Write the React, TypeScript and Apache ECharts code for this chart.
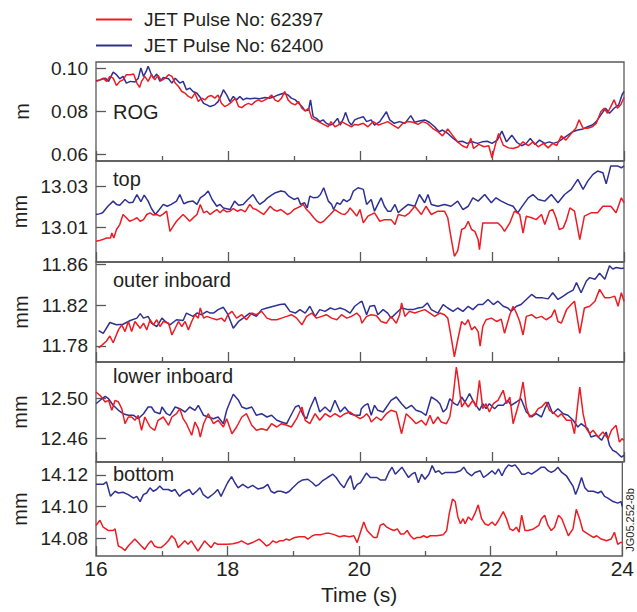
import React, { useEffect, useRef } from "react";
import * as echarts from "echarts";

// ---------- data ----------
const seriesNames = ["JET Pulse No: 62397", "JET Pulse No: 62400"];
const seriesColors = ["#ec1c24", "#2e3192"];
const panelLabels = ["ROG", "top", "outer inboard", "lower inboard", "bottom"];
const unitNames = ["m", "mm", "mm", "mm", "mm"];
const yMins = [0.0568, 12.9931, 11.764, 12.436, 14.0688];
const yMaxs = [0.1028, 13.0422, 11.8627, 12.536, 14.1282];
const yTickValues = [
  [0.06, 0.08, 0.1],
  [13.01, 13.03],
  [11.78, 11.82, 11.86],
  [12.46, 12.5],
  [14.08, 14.1, 14.12],
];
const xMin = 16;
const xMax = 24;
const xLabelStep = 2;
const xName = "Time (s)";
const figureCode = "JG05.252-8b";

type P = [number, number];

const rogRed: P[] = [
  [16.01,0.0938],[16.06,0.0945],[16.11,0.0953],[16.16,0.0938],[16.21,0.0961],[16.26,0.0953],[16.31,0.0919],[16.36,0.0938],[16.41,0.0945],[16.46,0.0969],
  [16.52,0.0969],[16.57,0.0972],[16.62,0.0930],[16.66,0.0910],[16.69,0.0938],[16.74,0.0961],[16.79,0.0938],[16.84,0.0969],[16.89,0.0945],[16.94,0.0966],
  [16.99,0.0941],[17.05,0.0953],[17.10,0.0969],[17.15,0.0961],[17.20,0.0930],[17.25,0.0914],[17.30,0.0891],[17.35,0.0883],[17.40,0.0868],[17.45,0.0860],
  [17.50,0.0883],[17.55,0.0844],[17.60,0.0860],[17.65,0.0852],[17.70,0.0868],[17.75,0.0872],[17.80,0.0860],[17.85,0.0875],[17.90,0.0836],[17.95,0.0821],
  [18.00,0.0829],[18.06,0.0844],[18.11,0.0860],[18.16,0.0821],[18.21,0.0816],[18.26,0.0829],[18.31,0.0836],[18.36,0.0829],[18.41,0.0844],[18.46,0.0852],
  [18.51,0.0844],[18.56,0.0852],[18.61,0.0860],[18.66,0.0875],[18.71,0.0852],[18.76,0.0844],[18.81,0.0860],[18.86,0.0891],[18.91,0.0852],[18.96,0.0836],
  [19.02,0.0829],[19.07,0.0844],[19.12,0.0813],[19.17,0.0801],[19.22,0.0813],[19.27,0.0766],[19.32,0.0759],[19.37,0.0751],[19.42,0.0743],[19.47,0.0735],
  [19.52,0.0727],[19.56,0.0751],[19.62,0.0727],[19.67,0.0735],[19.72,0.0751],[19.77,0.0743],[19.82,0.0735],[19.87,0.0727],[19.92,0.0738],[19.97,0.0735],
  [20.05,0.0743],[20.12,0.0727],[20.20,0.0751],[20.28,0.0735],[20.35,0.0743],[20.42,0.0751],[20.50,0.0735],[20.58,0.0720],[20.65,0.0743],[20.73,0.0751],
  [20.80,0.0748],[20.88,0.0738],[20.95,0.0751],[21.02,0.0743],[21.10,0.0720],[21.18,0.0704],[21.25,0.0685],[21.33,0.0717],[21.40,0.0688],[21.48,0.0657],
  [21.55,0.0639],[21.62,0.0629],[21.68,0.0673],[21.72,0.0626],[21.80,0.0645],[21.88,0.0634],[21.95,0.0639],[22.00,0.0583],[22.05,0.0642],[22.10,0.0696],
  [22.17,0.0642],[22.25,0.0629],[22.32,0.0626],[22.40,0.0634],[22.47,0.0657],[22.55,0.0639],[22.62,0.0657],[22.70,0.0634],[22.78,0.0650],[22.85,0.0629],
  [22.92,0.0650],[22.98,0.0639],[23.05,0.0685],[23.12,0.0665],[23.20,0.0696],[23.27,0.0720],[23.32,0.0759],[23.38,0.0720],[23.45,0.0720],[23.52,0.0727],
  [23.58,0.0743],[23.65,0.0798],[23.70,0.0813],[23.75,0.0790],[23.80,0.0821],[23.85,0.0852],[23.90,0.0813],[23.95,0.0829],[24.00,0.0863],
];
const rogBlue: P[] = [
  [16.00,0.0941],[16.07,0.0945],[16.14,0.0953],[16.19,0.0938],[16.26,0.0981],[16.31,0.0969],[16.36,0.0950],[16.41,0.0961],[16.46,0.0930],[16.52,0.0938],
  [16.59,0.0935],[16.64,0.0953],[16.68,0.1000],[16.72,0.0961],[16.76,0.0984],[16.79,0.1008],[16.83,0.0977],[16.87,0.0953],[16.92,0.0972],[16.97,0.0938],
  [17.02,0.0956],[17.10,0.0950],[17.15,0.0930],[17.20,0.0953],[17.27,0.0930],[17.32,0.0938],[17.37,0.0899],[17.42,0.0907],[17.47,0.0891],[17.53,0.0883],
  [17.58,0.0863],[17.63,0.0836],[17.68,0.0829],[17.73,0.0821],[17.80,0.0829],[17.85,0.0844],[17.90,0.0875],[17.93,0.0899],[17.98,0.0875],[18.03,0.0844],
  [18.08,0.0868],[18.13,0.0852],[18.18,0.0868],[18.23,0.0852],[18.28,0.0860],[18.33,0.0857],[18.41,0.0860],[18.48,0.0857],[18.56,0.0863],[18.64,0.0860],
  [18.71,0.0868],[18.76,0.0875],[18.84,0.0883],[18.91,0.0875],[18.96,0.0860],[19.02,0.0852],[19.07,0.0836],[19.12,0.0821],[19.17,0.0801],[19.22,0.0805],
  [19.25,0.0852],[19.29,0.0774],[19.34,0.0766],[19.39,0.0751],[19.44,0.0759],[19.49,0.0743],[19.55,0.0735],[19.60,0.0743],[19.66,0.0766],[19.70,0.0735],
  [19.75,0.0766],[19.78,0.0794],[19.83,0.0751],[19.87,0.0735],[19.92,0.0759],[19.97,0.0766],[20.05,0.0774],[20.10,0.0751],[20.17,0.0759],[20.22,0.0735],
  [20.30,0.0751],[20.40,0.0797],[20.45,0.0759],[20.52,0.0743],[20.60,0.0751],[20.68,0.0743],[20.77,0.0779],[20.83,0.0748],[20.90,0.0754],[20.98,0.0759],
  [21.05,0.0748],[21.13,0.0727],[21.20,0.0704],[21.25,0.0712],[21.33,0.0696],[21.40,0.0676],[21.48,0.0657],[21.55,0.0660],[21.62,0.0650],[21.70,0.0657],
  [21.78,0.0650],[21.85,0.0657],[21.93,0.0660],[22.00,0.0650],[22.08,0.0665],[22.15,0.0707],[22.22,0.0657],[22.30,0.0688],[22.38,0.0654],[22.45,0.0639],
  [22.52,0.0650],[22.58,0.0673],[22.65,0.0645],[22.72,0.0665],[22.80,0.0650],[22.87,0.0657],[22.93,0.0650],[23.00,0.0657],[23.08,0.0673],[23.15,0.0688],
  [23.22,0.0704],[23.30,0.0712],[23.38,0.0717],[23.45,0.0727],[23.52,0.0735],[23.58,0.0751],[23.65,0.0782],[23.72,0.0813],[23.78,0.0790],[23.85,0.0813],
  [23.92,0.0829],[23.97,0.0875],[24.00,0.0891],
];

const topRed: P[] = [
  [16.00,13.0032],[16.05,13.0035],[16.10,13.0040],[16.16,13.0048],[16.22,13.0048],[16.24,13.0072],[16.27,13.0048],[16.31,13.0089],[16.36,13.0113],[16.41,13.0162],
  [16.46,13.0146],[16.51,13.0129],[16.57,13.0137],[16.62,13.0146],[16.67,13.0129],[16.72,13.0137],[16.77,13.0162],[16.82,13.0170],[16.87,13.0159],[16.92,13.0162],
  [16.97,13.0154],[17.02,13.0165],[17.07,13.0178],[17.12,13.0080],[17.17,13.0105],[17.22,13.0129],[17.27,13.0146],[17.32,13.0162],[17.37,13.0146],[17.42,13.0129],
  [17.48,13.0148],[17.53,13.0162],[17.58,13.0211],[17.63,13.0170],[17.68,13.0178],[17.73,13.0162],[17.78,13.0175],[17.83,13.0186],[17.88,13.0170],[17.93,13.0186],
  [17.98,13.0175],[18.03,13.0178],[18.08,13.0191],[18.14,13.0178],[18.20,13.0186],[18.26,13.0175],[18.33,13.0211],[18.38,13.0191],[18.43,13.0186],[18.48,13.0175],
  [18.54,13.0162],[18.59,13.0181],[18.64,13.0202],[18.69,13.0186],[18.74,13.0178],[18.80,13.0186],[18.85,13.0175],[18.90,13.0162],[18.95,13.0170],[19.00,13.0186],
  [19.05,13.0194],[19.10,13.0202],[19.14,13.0211],[19.19,13.0186],[19.24,13.0170],[19.30,13.0146],[19.35,13.0129],[19.40,13.0121],[19.45,13.0129],[19.50,13.0146],
  [19.55,13.0162],[19.62,13.0186],[19.67,13.0175],[19.72,13.0165],[19.77,13.0162],[19.82,13.0178],[19.85,13.0194],[19.90,13.0175],[19.95,13.0154],[20.00,13.0186],
  [20.05,13.0121],[20.12,13.0154],[20.22,13.0170],[20.30,13.0129],[20.37,13.0137],[20.47,13.0137],[20.53,13.0113],[20.58,13.0162],[20.68,13.0154],[20.75,13.0170],
  [20.83,13.0202],[20.93,13.0162],[21.00,13.0202],[21.08,13.0162],[21.18,13.0178],[21.28,13.0178],[21.33,13.0146],[21.38,13.0048],[21.43,12.9959],[21.48,12.9985],
  [21.54,13.0089],[21.59,13.0097],[21.64,13.0129],[21.69,13.0089],[21.74,13.0080],[21.79,13.0040],[21.81,12.9991],[21.86,13.0121],[21.94,13.0121],[22.02,13.0121],
  [22.09,13.0121],[22.14,13.0105],[22.19,13.0080],[22.27,13.0121],[22.32,13.0162],[22.34,13.0178],[22.42,13.0162],[22.47,13.0072],[22.52,13.0154],[22.60,13.0146],
  [22.67,13.0137],[22.75,13.0162],[22.80,13.0113],[22.87,13.0178],[22.92,13.0186],[22.97,13.0146],[23.02,13.0089],[23.08,13.0097],[23.13,13.0137],[23.18,13.0194],
  [23.25,13.0178],[23.33,13.0040],[23.40,13.0154],[23.50,13.0170],[23.60,13.0170],[23.68,13.0202],[23.80,13.0202],[23.88,13.0170],[23.96,13.0243],[24.00,13.0219],
];
const topBlue: P[] = [
  [16.00,13.0162],[16.05,13.0165],[16.10,13.0170],[16.18,13.0202],[16.26,13.0227],[16.31,13.0211],[16.36,13.0207],[16.44,13.0235],[16.50,13.0219],[16.56,13.0222],
  [16.62,13.0259],[16.68,13.0224],[16.73,13.0256],[16.79,13.0227],[16.84,13.0191],[16.90,13.0162],[16.96,13.0186],[17.02,13.0211],[17.08,13.0202],[17.14,13.0211],
  [17.22,13.0227],[17.27,13.0259],[17.33,13.0214],[17.40,13.0224],[17.47,13.0227],[17.53,13.0211],[17.58,13.0243],[17.64,13.0256],[17.70,13.0276],[17.76,13.0235],
  [17.83,13.0202],[17.88,13.0211],[17.93,13.0194],[18.03,13.0186],[18.10,13.0227],[18.16,13.0207],[18.23,13.0211],[18.30,13.0235],[18.38,13.0259],[18.44,13.0227],
  [18.48,13.0211],[18.55,13.0227],[18.60,13.0243],[18.66,13.0256],[18.72,13.0268],[18.80,13.0276],[18.86,13.0272],[18.92,13.0251],[19.00,13.0235],[19.06,13.0243],
  [19.10,13.0211],[19.16,13.0219],[19.20,13.0194],[19.24,13.0251],[19.30,13.0243],[19.36,13.0246],[19.40,13.0259],[19.45,13.0292],[19.52,13.0227],[19.57,13.0211],
  [19.60,13.0186],[19.65,13.0219],[19.70,13.0211],[19.75,13.0235],[19.80,13.0224],[19.85,13.0235],[19.90,13.0276],[19.97,13.0292],[20.05,13.0284],[20.10,13.0211],
  [20.17,13.0235],[20.22,13.0178],[20.27,13.0211],[20.32,13.0243],[20.37,13.0202],[20.42,13.0178],[20.47,13.0178],[20.53,13.0211],[20.58,13.0170],[20.63,13.0186],
  [20.73,13.0211],[20.83,13.0202],[20.90,13.0259],[20.98,13.0219],[21.03,13.0259],[21.08,13.0211],[21.18,13.0202],[21.28,13.0211],[21.38,13.0202],[21.48,13.0227],
  [21.56,13.0186],[21.64,13.0202],[21.71,13.0243],[21.79,13.0227],[21.89,13.0259],[21.99,13.0219],[22.06,13.0243],[22.14,13.0227],[22.24,13.0211],[22.32,13.0202],
  [22.39,13.0170],[22.44,13.0194],[22.55,13.0243],[22.62,13.0259],[22.70,13.0235],[22.80,13.0227],[22.90,13.0259],[23.00,13.0219],[23.10,13.0259],[23.20,13.0284],
  [23.30,13.0333],[23.38,13.0284],[23.45,13.0324],[23.53,13.0357],[23.60,13.0373],[23.68,13.0365],[23.73,13.0311],[23.80,13.0398],[23.90,13.0398],[23.96,13.0389],
  [24.00,13.0398],
];

const outerRed: P[] = [
  [16.04,11.7780],[16.09,11.7807],[16.16,11.7847],[16.21,11.7897],[16.26,11.7830],[16.34,11.7957],[16.39,11.8007],[16.44,11.7940],[16.49,11.8040],[16.54,11.7940],
  [16.59,11.8040],[16.67,11.7973],[16.72,11.8023],[16.77,11.7957],[16.82,11.8057],[16.87,11.8007],[16.92,11.8057],[16.97,11.7990],[17.02,11.8040],[17.10,11.8023],
  [17.15,11.7907],[17.20,11.7973],[17.25,11.8040],[17.30,11.7990],[17.35,11.8040],[17.40,11.7957],[17.45,11.8040],[17.50,11.8107],[17.55,11.8073],[17.58,11.8173],
  [17.63,11.8073],[17.68,11.8090],[17.75,11.8073],[17.83,11.8057],[17.90,11.8073],[17.95,11.8040],[18.00,11.8107],[18.06,11.8140],[18.13,11.8073],[18.21,11.8107],
  [18.28,11.8057],[18.36,11.8123],[18.43,11.8107],[18.51,11.8140],[18.59,11.8073],[18.66,11.8057],[18.74,11.8057],[18.81,11.8073],[18.89,11.8090],[18.96,11.8107],
  [19.04,11.8073],[19.12,11.8007],[19.19,11.8090],[19.27,11.8123],[19.34,11.8073],[19.42,11.8090],[19.49,11.8107],[19.57,11.8073],[19.65,11.8057],[19.72,11.8107],
  [19.80,11.8073],[19.87,11.8090],[19.95,11.8123],[20.00,11.8090],[20.03,11.8023],[20.10,11.8090],[20.17,11.8107],[20.25,11.8097],[20.32,11.8040],[20.40,11.8023],
  [20.47,11.8090],[20.55,11.8023],[20.60,11.8107],[20.63,11.8223],[20.68,11.8090],[20.75,11.8140],[20.83,11.8123],[20.90,11.8140],[20.98,11.8157],[21.06,11.8123],
  [21.13,11.8090],[21.21,11.8123],[21.28,11.8107],[21.33,11.8073],[21.38,11.7890],[21.43,11.7690],[21.48,11.7857],[21.54,11.8040],[21.59,11.8007],[21.64,11.8057],
  [21.69,11.7957],[21.74,11.7990],[21.79,11.7940],[21.82,11.7797],[21.86,11.7990],[21.91,11.8057],[21.99,11.8073],[22.07,11.8040],[22.14,11.8063],[22.19,11.7923],
  [22.27,11.8107],[22.32,11.8190],[22.37,11.8123],[22.42,11.8040],[22.47,11.7907],[22.52,11.8090],[22.60,11.8107],[22.67,11.8073],[22.75,11.8090],[22.82,11.8057],
  [22.90,11.8090],[22.95,11.8157],[23.00,11.8040],[23.05,11.8023],[23.13,11.8157],[23.20,11.8207],[23.25,11.8240],[23.33,11.7923],[23.40,11.8173],[23.48,11.8190],
  [23.56,11.8240],[23.63,11.8357],[23.71,11.8273],[23.78,11.8273],[23.86,11.8290],[23.91,11.8190],[23.96,11.8323],[24.00,11.8240],
];
const outerBlue: P[] = [
  [16.04,11.7950],[16.11,11.7923],[16.21,11.8030],[16.31,11.8007],[16.41,11.8013],[16.52,11.8050],[16.62,11.8073],[16.67,11.8117],[16.72,11.8073],[16.79,11.8090],
  [16.84,11.8023],[16.92,11.7990],[17.00,11.8073],[17.05,11.8040],[17.12,11.8007],[17.22,11.8057],[17.32,11.8050],[17.37,11.8123],[17.47,11.8090],[17.53,11.8123],
  [17.60,11.8107],[17.68,11.8140],[17.73,11.8123],[17.78,11.8123],[17.85,11.8157],[17.93,11.8180],[18.00,11.8107],[18.08,11.7973],[18.16,11.8040],[18.23,11.8073],
  [18.33,11.8123],[18.43,11.8090],[18.51,11.8157],[18.59,11.8173],[18.69,11.8190],[18.79,11.8207],[18.86,11.8213],[18.94,11.8140],[19.02,11.8123],[19.09,11.8157],
  [19.17,11.8123],[19.24,11.8190],[19.32,11.8090],[19.39,11.8157],[19.47,11.8140],[19.55,11.8173],[19.62,11.8157],[19.70,11.8173],[19.77,11.8157],[19.85,11.8123],
  [19.92,11.8190],[20.00,11.8230],[20.03,11.8240],[20.10,11.8107],[20.15,11.8190],[20.22,11.8197],[20.27,11.8107],[20.35,11.8157],[20.42,11.8123],[20.47,11.8073],
  [20.55,11.8123],[20.63,11.8173],[20.73,11.8157],[20.80,11.8157],[20.88,11.8173],[20.95,11.8180],[21.02,11.8223],[21.08,11.8157],[21.18,11.8123],[21.26,11.8207],
  [21.33,11.8173],[21.41,11.8140],[21.48,11.8173],[21.56,11.8140],[21.64,11.8190],[21.71,11.8157],[21.79,11.8207],[21.86,11.8207],[21.94,11.8257],[22.02,11.8207],
  [22.09,11.8240],[22.17,11.8190],[22.24,11.8173],[22.29,11.8140],[22.37,11.8190],[22.44,11.8207],[22.52,11.8257],[22.60,11.8307],[22.67,11.8273],[22.77,11.8273],
  [22.85,11.8263],[22.92,11.8323],[23.00,11.8257],[23.08,11.8290],[23.15,11.8323],[23.23,11.8350],[23.28,11.8423],[23.35,11.8323],[23.43,11.8440],[23.48,11.8473],
  [23.56,11.8457],[23.63,11.8517],[23.71,11.8457],[23.78,11.8590],[23.83,11.8557],[23.88,11.8573],[23.96,11.8563],[24.00,11.8567],
];

const lowerRed: P[] = [
  [16.00,12.5060],[16.06,12.5027],[16.14,12.4960],[16.19,12.4977],[16.24,12.4877],[16.29,12.4977],[16.34,12.4960],[16.39,12.4893],[16.44,12.4743],[16.49,12.4810],
  [16.54,12.4810],[16.59,12.4777],[16.64,12.4827],[16.69,12.4677],[16.74,12.4810],[16.82,12.4710],[16.89,12.4677],[16.94,12.4777],[17.02,12.4810],[17.10,12.4727],
  [17.15,12.4810],[17.22,12.4843],[17.27,12.4893],[17.32,12.4793],[17.37,12.4743],[17.45,12.4627],[17.50,12.4760],[17.55,12.4693],[17.58,12.4610],[17.63,12.4743],
  [17.70,12.4843],[17.78,12.4743],[17.85,12.4777],[17.93,12.4710],[17.98,12.4793],[18.06,12.4643],[18.13,12.4710],[18.21,12.4810],[18.28,12.4843],[18.36,12.4727],
  [18.43,12.4677],[18.51,12.4693],[18.59,12.4677],[18.66,12.4743],[18.74,12.4710],[18.81,12.4743],[18.89,12.4727],[18.96,12.4710],[19.04,12.4793],[19.12,12.4910],
  [19.17,12.4777],[19.24,12.4743],[19.32,12.4843],[19.39,12.4777],[19.47,12.4843],[19.55,12.4810],[19.62,12.4843],[19.70,12.4810],[19.77,12.4843],[19.85,12.4860],
  [19.92,12.4827],[20.00,12.4793],[20.05,12.4810],[20.10,12.4843],[20.14,12.4810],[20.17,12.4760],[20.25,12.4810],[20.32,12.4777],[20.40,12.4843],[20.47,12.4877],
  [20.55,12.4860],[20.63,12.4643],[20.70,12.4843],[20.78,12.4793],[20.85,12.4743],[20.93,12.4777],[21.00,12.4727],[21.06,12.4827],[21.11,12.4743],[21.18,12.4810],
  [21.23,12.4760],[21.31,12.4743],[21.36,12.4810],[21.41,12.5010],[21.46,12.5310],[21.49,12.5177],[21.54,12.4910],[21.59,12.4960],[21.64,12.4910],[21.71,12.4977],
  [21.76,12.4910],[21.81,12.5177],[21.86,12.4893],[21.91,12.4943],[21.96,12.4860],[22.02,12.4943],[22.09,12.4977],[22.17,12.5077],[22.22,12.4943],[22.27,12.5010],
  [22.32,12.4743],[22.37,12.4860],[22.42,12.4977],[22.47,12.5160],[22.52,12.4910],[22.57,12.4810],[22.65,12.4843],[22.70,12.4893],[22.75,12.4910],[22.82,12.4960],
  [22.87,12.4877],[22.95,12.4843],[23.00,12.4810],[23.05,12.4843],[23.13,12.4777],[23.20,12.4777],[23.25,12.4643],[23.30,12.4943],[23.33,12.5110],[23.38,12.4843],
  [23.43,12.4693],[23.48,12.4643],[23.53,12.4677],[23.61,12.4610],[23.68,12.4660],[23.76,12.4593],[23.81,12.4677],[23.88,12.4727],[23.93,12.4560],[23.97,12.4593],
  [24.00,12.4577],
];
const lowerBlue: P[] = [
  [16.00,12.4943],[16.09,12.4993],[16.14,12.5017],[16.19,12.4993],[16.26,12.4927],[16.34,12.4877],[16.41,12.4843],[16.49,12.4827],[16.57,12.4827],[16.64,12.4793],
  [16.72,12.4843],[16.79,12.4910],[16.84,12.4910],[16.89,12.4860],[16.97,12.4843],[17.00,12.4910],[17.07,12.4843],[17.12,12.4827],[17.20,12.4910],[17.27,12.4893],
  [17.35,12.4860],[17.42,12.4910],[17.50,12.4877],[17.55,12.4927],[17.63,12.4827],[17.70,12.4810],[17.78,12.4793],[17.85,12.4810],[17.93,12.4743],[17.98,12.4877],
  [18.03,12.4960],[18.08,12.5037],[18.16,12.4977],[18.21,12.4910],[18.28,12.4893],[18.36,12.4910],[18.43,12.4827],[18.51,12.4843],[18.59,12.4810],[18.66,12.4827],
  [18.74,12.4777],[18.81,12.4760],[18.89,12.4743],[18.94,12.4810],[19.02,12.4910],[19.07,12.4927],[19.14,12.4827],[19.19,12.4793],[19.24,12.4893],[19.32,12.5010],
  [19.39,12.4860],[19.47,12.4910],[19.55,12.4860],[19.62,12.4977],[19.70,12.4860],[19.77,12.4910],[19.85,12.4843],[19.92,12.4827],[20.00,12.4827],[20.02,12.4893],
  [20.07,12.4927],[20.12,12.4943],[20.17,12.4827],[20.22,12.4927],[20.27,12.4877],[20.35,12.4860],[20.42,12.4927],[20.47,12.4977],[20.55,12.5010],[20.63,12.4943],
  [20.70,12.4893],[20.78,12.4927],[20.85,12.4877],[20.93,12.4860],[21.00,12.4827],[21.08,12.5010],[21.16,12.4977],[21.21,12.4943],[21.26,12.4860],[21.31,12.4893],
  [21.36,12.4993],[21.43,12.4943],[21.48,12.4927],[21.54,12.5010],[21.59,12.4960],[21.66,12.5043],[21.71,12.4977],[21.76,12.4927],[21.81,12.4877],[21.86,12.4943],
  [21.91,12.4893],[21.96,12.4943],[22.04,12.4893],[22.09,12.4927],[22.17,12.4927],[22.24,12.4977],[22.29,12.4927],[22.37,12.4960],[22.44,12.4993],[22.52,12.4860],
  [22.60,12.4810],[22.67,12.4843],[22.75,12.4810],[22.80,12.4893],[22.85,12.4960],[22.92,12.4843],[23.00,12.4893],[23.08,12.4843],[23.15,12.4827],[23.23,12.4777],
  [23.30,12.4710],[23.35,12.4743],[23.45,12.4693],[23.50,12.4610],[23.58,12.4627],[23.66,12.4577],[23.73,12.4660],[23.78,12.4527],[23.83,12.4477],[23.88,12.4460],
  [23.96,12.4410],[24.00,12.4427],
];

const bottomRed: P[] = [
  [16.00,14.0881],[16.06,14.0914],[16.11,14.0870],[16.19,14.0849],[16.26,14.0849],[16.29,14.0859],[16.34,14.0751],[16.39,14.0741],[16.44,14.0723],[16.49,14.0751],
  [16.54,14.0773],[16.59,14.0795],[16.64,14.0773],[16.69,14.0751],[16.74,14.0730],[16.79,14.0762],[16.84,14.0784],[16.89,14.0751],[16.94,14.0741],[16.99,14.0741],
  [17.05,14.0762],[17.10,14.0784],[17.15,14.0816],[17.20,14.0795],[17.25,14.0741],[17.30,14.0762],[17.35,14.0784],[17.40,14.0762],[17.45,14.0784],[17.50,14.0751],
  [17.55,14.0719],[17.60,14.0751],[17.65,14.0784],[17.70,14.0762],[17.75,14.0741],[17.80,14.0773],[17.85,14.0762],[17.93,14.0762],[18.00,14.0762],[18.08,14.0766],
  [18.16,14.0773],[18.21,14.0784],[18.26,14.0773],[18.31,14.0762],[18.38,14.0773],[18.43,14.0784],[18.48,14.0795],[18.54,14.0773],[18.59,14.0751],[18.64,14.0762],
  [18.69,14.0784],[18.74,14.0773],[18.79,14.0784],[18.84,14.0784],[18.89,14.0795],[18.94,14.0788],[19.02,14.0805],[19.09,14.0810],[19.17,14.0810],[19.22,14.0795],
  [19.29,14.0816],[19.34,14.0823],[19.42,14.0823],[19.49,14.0831],[19.55,14.0831],[19.62,14.0823],[19.70,14.0810],[19.77,14.0816],[19.85,14.0810],[19.92,14.0816],
  [19.97,14.0773],[20.02,14.0838],[20.07,14.0903],[20.12,14.0849],[20.17,14.0827],[20.22,14.0805],[20.27,14.0805],[20.32,14.0881],[20.37,14.0892],[20.42,14.0870],
  [20.47,14.0859],[20.53,14.0849],[20.58,14.0859],[20.63,14.0827],[20.68,14.0827],[20.73,14.0849],[20.78,14.0816],[20.83,14.0795],[20.88,14.0805],[20.93,14.0805],
  [20.98,14.0816],[21.03,14.0805],[21.08,14.0816],[21.18,14.0816],[21.28,14.0823],[21.33,14.0849],[21.37,14.0957],[21.42,14.1048],[21.46,14.1032],[21.50,14.0935],
  [21.54,14.0892],[21.58,14.0924],[21.61,14.0892],[21.66,14.0935],[21.71,14.0914],[21.76,14.0957],[21.81,14.1011],[21.86,14.0924],[21.91,14.0892],[21.96,14.0881],
  [22.02,14.0903],[22.07,14.0881],[22.12,14.0914],[22.19,14.0968],[22.24,14.0924],[22.29,14.0859],[22.34,14.0849],[22.39,14.0870],[22.43,14.0838],[22.47,14.0946],
  [22.52,14.0849],[22.57,14.0849],[22.65,14.0859],[22.73,14.0881],[22.77,14.0924],[22.82,14.0946],[22.87,14.0881],[22.92,14.0849],[22.97,14.0870],[23.03,14.0946],
  [23.08,14.0924],[23.13,14.0870],[23.18,14.0816],[23.25,14.0859],[23.30,14.0983],[23.35,14.0924],[23.40,14.0849],[23.48,14.0827],[23.56,14.0805],[23.61,14.0816],
  [23.68,14.0795],[23.76,14.0784],[23.83,14.0795],[23.88,14.0838],[23.93,14.0762],[23.97,14.0773],[24.00,14.0773],
];
const bottomBlue: P[] = [
  [16.00,14.1141],[16.11,14.1141],[16.16,14.1156],[16.22,14.1065],[16.29,14.1097],[16.34,14.1086],[16.41,14.1091],[16.49,14.1076],[16.57,14.1054],[16.62,14.1065],
  [16.67,14.1032],[16.72,14.1076],[16.77,14.1086],[16.82,14.1119],[16.87,14.1097],[16.92,14.1108],[16.97,14.1130],[17.02,14.1108],[17.10,14.1108],[17.15,14.1097],
  [17.20,14.1108],[17.27,14.1065],[17.32,14.1086],[17.37,14.1097],[17.42,14.1108],[17.47,14.1076],[17.53,14.1097],[17.58,14.1119],[17.63,14.1076],[17.70,14.1054],
  [17.75,14.1069],[17.80,14.1086],[17.85,14.1108],[17.90,14.1065],[17.95,14.1108],[18.00,14.1151],[18.06,14.1190],[18.11,14.1151],[18.16,14.1119],[18.23,14.1141],
  [18.31,14.1119],[18.38,14.1134],[18.46,14.1112],[18.54,14.1119],[18.61,14.1141],[18.66,14.1097],[18.71,14.1086],[18.76,14.1097],[18.81,14.1097],[18.89,14.1086],
  [18.94,14.1097],[18.99,14.1119],[19.07,14.1151],[19.14,14.1169],[19.22,14.1173],[19.29,14.1151],[19.34,14.1130],[19.39,14.1141],[19.44,14.1162],[19.52,14.1184],
  [19.60,14.1205],[19.65,14.1184],[19.72,14.1141],[19.77,14.1119],[19.82,14.1162],[19.87,14.1195],[19.92,14.1108],[19.97,14.1141],[20.02,14.1151],[20.11,14.1212],
  [20.17,14.1184],[20.27,14.1184],[20.32,14.1169],[20.40,14.1169],[20.45,14.1216],[20.50,14.1249],[20.55,14.1205],[20.60,14.1227],[20.65,14.1249],[20.70,14.1216],
  [20.75,14.1184],[20.80,14.1205],[20.85,14.1216],[20.90,14.1151],[20.95,14.1205],[21.00,14.1173],[21.06,14.1205],[21.11,14.1259],[21.16,14.1216],[21.21,14.1227],
  [21.26,14.1205],[21.31,14.1216],[21.38,14.1216],[21.46,14.1216],[21.54,14.1227],[21.59,14.1249],[21.64,14.1216],[21.71,14.1195],[21.76,14.1216],[21.84,14.1227],
  [21.89,14.1184],[21.96,14.1205],[22.02,14.1227],[22.07,14.1205],[22.12,14.1238],[22.17,14.1195],[22.22,14.1238],[22.27,14.1264],[22.32,14.1255],[22.37,14.1264],
  [22.42,14.1238],[22.47,14.1205],[22.52,14.1205],[22.57,14.1216],[22.62,14.1205],[22.70,14.1227],[22.77,14.1249],[22.82,14.1249],[22.87,14.1227],[22.92,14.1216],
  [22.97,14.1227],[23.02,14.1249],[23.08,14.1216],[23.15,14.1195],[23.20,14.1162],[23.25,14.1130],[23.29,14.1076],[23.33,14.1119],[23.38,14.1184],[23.43,14.1119],
  [23.48,14.1097],[23.56,14.1097],[23.63,14.1086],[23.68,14.1097],[23.73,14.1065],[23.78,14.1054],[23.86,14.1032],[23.93,14.1022],[23.98,14.1032],[24.00,14.1000],
];

const panelRed = [rogRed, topRed, outerRed, lowerRed, bottomRed];
const panelBlue = [rogBlue, topBlue, outerBlue, lowerBlue, bottomBlue];

// ---------- layout ----------
const W = 637;
const H = 612;
const gridLeft = 96;
const gridRight = 13;
const gridTops = [62, 161, 262, 362, 462];
const gridHeights = [99, 101, 100, 100, 94];
const labelYs = [111.5, 179, 280, 376, 473.5];
const FONT = "'Liberation Sans', Arial, Helvetica, sans-serif";
const TEXT = "#231f20";
const FRAME = "#595a5c";

function buildOption() {
  const n = panelLabels.length;
  const grid: any[] = [];
  const xAxis: any[] = [];
  const yAxis: any[] = [];
  const series: any[] = [];
  for (let i = 0; i < n; i++) {
    const last = i === n - 1;
    grid.push({
      left: gridLeft,
      right: gridRight,
      top: gridTops[i],
      height: gridHeights[i],
      show: true,
      borderColor: FRAME,
      borderWidth: 1.3,
      backgroundColor: "transparent",
    });
    xAxis.push({
      type: "value",
      gridIndex: i,
      min: xMin,
      max: xMax,
      interval: xLabelStep,
      axisLine: { show: false },
      axisTick: { show: true, inside: true, length: 10, lineStyle: { color: FRAME, width: 1.3 } },
      minorTick: { show: true, splitNumber: 2, length: 5, lineStyle: { color: FRAME, width: 1.3 } },
      splitLine: { show: false },
      minorSplitLine: { show: false },
      axisLabel: {
        show: last,
        fontSize: 21,
        color: TEXT,
        fontFamily: FONT,
        margin: 2,
      },
      name: last ? xName : "",
      nameLocation: "middle",
      nameGap: 28,
      nameTextStyle: { fontSize: 21, color: TEXT, fontFamily: FONT },
    });
    yAxis.push({
      type: "value",
      gridIndex: i,
      min: yMins[i],
      max: yMaxs[i],
      axisLine: { show: false },
      axisTick: {
        show: true,
        inside: true,
        length: 10,
        customValues: yTickValues[i],
        lineStyle: { color: FRAME, width: 1.3 },
      },
      axisLabel: {
        customValues: yTickValues[i],
        formatter: (v: number) => v.toFixed(2),
        fontSize: 19,
        color: TEXT,
        fontFamily: FONT,
        margin: 8,
      },
      splitLine: { show: false },
      name: unitNames[i],
      nameLocation: "middle",
      nameGap: 64,
      nameTextStyle: { fontSize: 20, color: TEXT, fontFamily: FONT },
    });
    series.push({
      name: seriesNames[0],
      type: "line",
      xAxisIndex: i,
      yAxisIndex: i,
      data: panelRed[i],
      symbol: "none",
      showSymbol: false,
      lineStyle: { color: seriesColors[0], width: 1.5 },
      itemStyle: { color: seriesColors[0] },
      z: 3,
    });
    series.push({
      name: seriesNames[1],
      type: "line",
      xAxisIndex: i,
      yAxisIndex: i,
      data: panelBlue[i],
      symbol: "none",
      showSymbol: false,
      lineStyle: { color: seriesColors[1], width: 1.5 },
      itemStyle: { color: seriesColors[1] },
      z: 2,
    });
  }

  const graphic: any[] = panelLabels.map((label, i) => ({
    type: "text",
    x: 113,
    y: labelYs[i],
    silent: true,
    style: {
      text: label,
      fontSize: 20,
      fontFamily: FONT,
      fill: TEXT,
      align: "left",
      verticalAlign: "middle",
    },
  }));
  graphic.push({
    type: "text",
    x: 630,
    y: 520,
    rotation: Math.PI / 2,
    silent: true,
    style: {
      text: figureCode,
      fontSize: 11,
      fontFamily: FONT,
      fill: TEXT,
      align: "center",
      verticalAlign: "middle",
    },
  });

  return {
    animation: false,
    backgroundColor: "#ffffff",
    textStyle: { fontFamily: FONT },
    legend: {
      data: seriesNames.map((nm) => ({ name: nm, icon: "rect" })),
      orient: "vertical",
      left: 96,
      top: 10,
      padding: 0,
      itemWidth: 36,
      itemHeight: 2,
      itemGap: 7,
      selectedMode: false,
      textStyle: { fontSize: 19, color: TEXT, fontFamily: FONT, padding: [0, 0, 0, 7] },
    },
    grid,
    xAxis,
    yAxis,
    series,
    graphic,
  };
}

export default function App() {
  const ref = useRef<HTMLDivElement>(null);
  useEffect(() => {
    if (!ref.current) return;
    const chart = echarts.init(ref.current, undefined, { renderer: "svg", width: W, height: H });
    chart.setOption(buildOption() as any);
    return () => chart.dispose();
  }, []);
  return (
    <div
      ref={ref}
      style={{ position: "fixed", left: 0, top: 0, width: W, height: H, background: "#fff" }}
    />
  );
}
